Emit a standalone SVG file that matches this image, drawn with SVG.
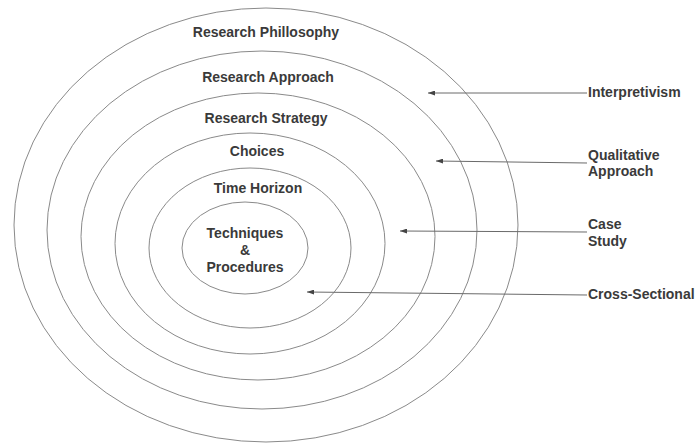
<svg xmlns="http://www.w3.org/2000/svg" width="696" height="444" viewBox="0 0 696 444">
<style>
.ring{fill:none;stroke:#8a8a8a;stroke-width:1}
.t{font-family:"Liberation Sans",Arial,sans-serif;font-weight:bold;font-size:14px;fill:#3a3a3a}
.c{text-anchor:middle}
.conn{stroke:#6a6a6a;stroke-width:1;fill:none;marker-end:url(#ah)}
</style>
<defs>
<marker id="ah" viewBox="0 0 7 5" refX="7" refY="2.5" markerWidth="7" markerHeight="5" markerUnits="userSpaceOnUse" orient="auto">
<path d="M0,0 L7,2.5 L0,5 Z" fill="#444"/>
</marker>
</defs>
<rect width="696" height="444" fill="#ffffff"/>
<g id="philosophy"><ellipse class="ring" cx="266" cy="225" rx="252" ry="217"/><text class="t c" x="266" y="37">Research Phillosophy</text></g>
<g id="approach"><ellipse class="ring" cx="262" cy="230" rx="215" ry="179"/><text class="t c" x="268" y="82">Research Approach</text></g>
<g id="strategy"><ellipse class="ring" cx="258" cy="236.5" rx="177" ry="143.5"/><text class="t c" x="266" y="123">Research Strategy</text></g>
<g id="choices"><ellipse class="ring" cx="250" cy="243.5" rx="135" ry="110.5"/><text class="t c" x="257" y="156">Choices</text></g>
<g id="time-horizon"><ellipse class="ring" cx="250" cy="248" rx="101" ry="80"/><text class="t c" x="258" y="193">Time Horizon</text></g>
<g id="techniques"><ellipse class="ring" cx="245" cy="248" rx="63" ry="46"/><text class="t c" x="245" y="238">Techniques</text><text class="t c" x="245" y="255">&amp;</text><text class="t c" x="245" y="272">Procedures</text></g>
<g id="interpretivism"><text class="t" x="588" y="97">Interpretivism</text></g>
<g id="qualitative"><text class="t" x="588" y="160">Qualitative</text><text class="t" x="588" y="176">Approach</text></g>
<g id="case-study"><text class="t" x="588" y="229">Case</text><text class="t" x="588" y="246">Study</text></g>
<g id="cross-sectional"><text class="t" x="588" y="299">Cross-Sectional</text></g>
<g id="connectors">
<line class="conn" x1="587" y1="93" x2="428" y2="93"/>
<line class="conn" x1="587" y1="163" x2="436" y2="161"/>
<line class="conn" x1="587" y1="232" x2="400" y2="231"/>
<line class="conn" x1="587" y1="295" x2="307" y2="292"/>
</g>
</svg>
